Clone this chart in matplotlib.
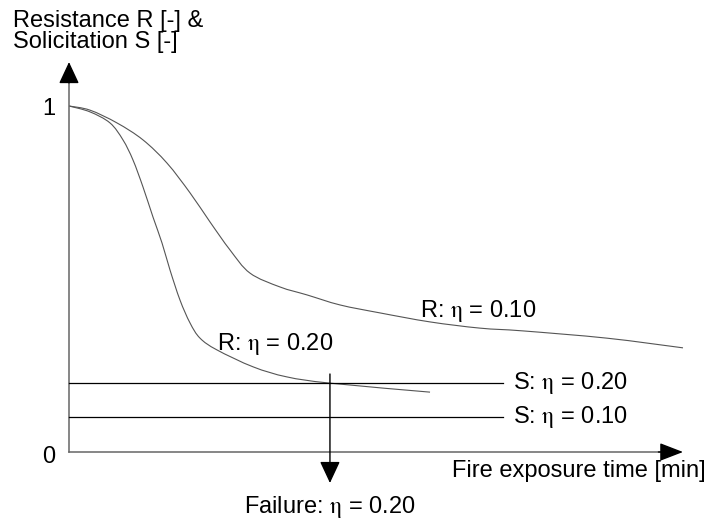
"""
Résistance R et sollicitation S en fonction du temps d'exposition au feu
"""
import matplotlib
matplotlib.use('Agg')
import numpy as np
import matplotlib.pyplot as plt
from matplotlib.path import Path
from matplotlib.patches import PathPatch

plt.rcParams['font.family'] = ['Liberation Sans', 'DejaVu Sans']
plt.rcParams['mathtext.fontset'] = 'stix'

# courbes de résistance (temps en unités arbitraires, R normalisée)
t_r010 = [0, 3.42, 7.82, 12.05, 15.96, 19.71, 22.96, 26.22, 29.48, 34.36,
          38.76, 44.14, 50.65, 58.79, 66.94, 73.94, 87.62, 100]
r_010 = [1.0, 0.988, 0.951, 0.902, 0.835, 0.749, 0.665, 0.584, 0.517, 0.477,
         0.454, 0.425, 0.402, 0.376, 0.358, 0.350, 0.329, 0.301]

t_r020 = [0, 3.42, 6.68, 8.79, 10.42, 12.05, 13.68, 15.15, 16.45, 18.08,
          19.71, 21.34, 24.10, 30.0, 35.5, 42.5, 58.8]
r_020 = [1.0, 0.983, 0.951, 0.902, 0.844, 0.766, 0.679, 0.604, 0.526, 0.439,
         0.373, 0.329, 0.295, 0.246, 0.217, 0.199, 0.173]

# sollicitations constantes
s_levels = [0.20, 0.10]
s_labels = [r'S: $\mathrm{\eta}$ = 0.20', r'S: $\mathrm{\eta}$ = 0.10']
s_end = 70.7

t_failure = 42.5
t_max = 100
y_top = 1.127

# conversion pixels -> données (mise en page uniquement)
PX_X0, PX_PER_X = 69, 6.14
PX_Y0, PX_PER_Y = 452, 346


def dx(px):
    return (px - PX_X0) / PX_PER_X


def dy(py):
    return (PX_Y0 - py) / PX_PER_Y


def smooth_path(x, y):
    """Chemin de Bézier (Catmull-Rom) passant par les points mesurés"""
    p = np.column_stack([x, y]).astype(float)
    p_ext = np.vstack([p[0], p, p[-1]])
    verts = [p[0]]
    codes = [Path.MOVETO]
    for i in range(1, len(p_ext) - 2):
        p0, p1, p2, p3 = p_ext[i - 1], p_ext[i], p_ext[i + 1], p_ext[i + 2]
        verts += [p1 + (p2 - p0) / 6, p2 - (p3 - p1) / 6, p2]
        codes += [Path.CURVE4] * 3
    return Path(verts, codes)


fig = plt.figure(figsize=(7.1, 5.2), dpi=100)
ax = fig.add_axes([0, 0, 1, 1])
ax.set_xlim(dx(0), dx(710))
ax.set_ylim(dy(520), dy(0))
ax.axis('off')

FS = 17
AXIS_GREY = '#666666'
arrow_kw = dict(arrowstyle='-|>,head_length=13.5,head_width=6.3', color='black',
                lw=1.0, shrinkA=0, shrinkB=0, mutation_scale=1)

# axes : trait gris, pointe noire
ax.plot([0, 0], [0, y_top - 0.02], color=AXIS_GREY, lw=1.1)
ax.plot([0, t_max - 2], [0, 0], color=AXIS_GREY, lw=1.1)
ax.annotate('', xy=(0, y_top), xytext=(0, y_top - 0.06), arrowprops=arrow_kw)
ax.annotate('', xy=(t_max, 0), xytext=(t_max - 4, 0),
            arrowprops=dict(arrow_kw, arrowstyle='-|>,head_length=14.5,head_width=5.6'))

# résistances
for t, r in [(t_r010, r_010), (t_r020, r_020)]:
    ax.add_patch(PathPatch(smooth_path(t, r), fill=False, edgecolor='#555555', lw=0.8))

# sollicitations
for s in s_levels:
    ax.plot([0, s_end], [s, s], color='black', lw=0.9)

# ruine pour eta = 0.20
ax.annotate('', xy=(t_failure, dy(483)), xytext=(t_failure, dy(374)),
            arrowprops=arrow_kw)

# textes
ax.text(dx(13), dy(27), 'Resistance R [-] &', fontsize=FS, ha='left', va='baseline')
ax.text(dx(13), dy(48), 'Solicitation S [-]', fontsize=FS, ha='left', va='baseline')
ax.text(dx(55), dy(109), '1', fontsize=FS, ha='right', va='center')
ax.text(dx(55), dy(457), '0', fontsize=FS, ha='right', va='center')
ax.text(dx(420), dy(317), r'R: $\mathrm{\eta}$ = 0.10', fontsize=FS, ha='left', va='baseline')
ax.text(dx(217), dy(350), r'R: $\mathrm{\eta}$ = 0.20', fontsize=FS, ha='left', va='baseline')
for s, lab in zip(s_levels, s_labels):
    ax.text(dx(513), s, lab, fontsize=FS, ha='left', va='center')
ax.text(t_failure, dy(513), r'Failure: $\mathrm{\eta}$ = 0.20', fontsize=FS,
        ha='center', va='baseline')
ax.text(dx(452), dy(477), 'Fire exposure time [min]', fontsize=FS, ha='left', va='baseline')

fig.savefig('out.png', dpi=100)
